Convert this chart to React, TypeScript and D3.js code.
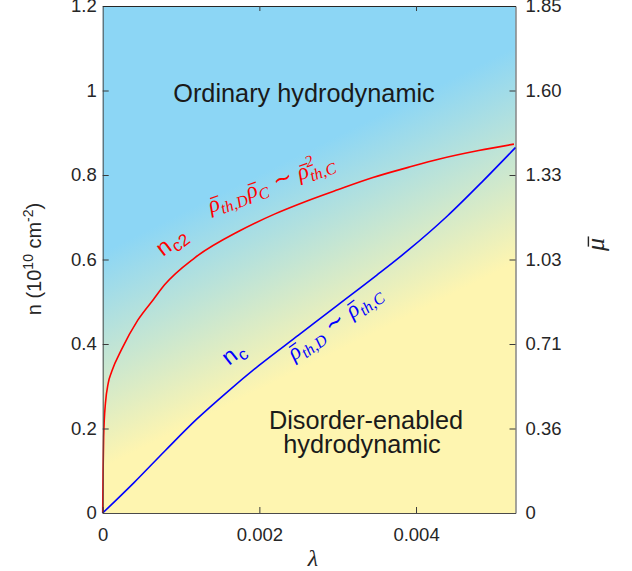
import React, { useEffect, useRef } from "react";
import * as d3 from "d3";

// ---------- data ----------
const LAMBDA_MAX = 0.00527;
const N_MAX = 1.2;

const leftTicks = [0, 0.2, 0.4, 0.6, 0.8, 1, 1.2];
const rightTickLabels = ["0", "0.36", "0.71", "1.03", "1.33", "1.60", "1.85"];
const bottomTicks = [0, 0.002, 0.004];

// n_c2 curve (red)
const nc2Lambda = [0, 0.000005, 0.000012, 0.00002, 0.000035, 0.00007, 0.000115, 0.000238, 0.00045, 0.00065, 0.00079, 0.001175, 0.00175, 0.0022, 0.0026, 0.003, 0.00345, 0.0039, 0.0043, 0.0048, 0.00525];
const nc2Values = [0, 0.1, 0.18, 0.22, 0.26, 0.307, 0.335, 0.386, 0.457, 0.506, 0.54, 0.604, 0.668, 0.708, 0.738, 0.765, 0.794, 0.818, 0.838, 0.858, 0.873];

// n_c curve (blue)
const ncLambda = [0, 0.0004, 0.0008, 0.0012, 0.0016, 0.002, 0.0025, 0.003, 0.0035, 0.0039, 0.0044, 0.00485, 0.00527];
const ncValues = [0, 0.072, 0.148, 0.222, 0.288, 0.35, 0.421, 0.492, 0.563, 0.622, 0.703, 0.785, 0.865];

// ---------- layout ----------
const W = 632;
const H = 571;
const X0 = 102.7;
const X1 = 515.5;
const Y0 = 513;
const Y1 = 6;

const SANS = "'Liberation Sans', Arial, Helvetica, sans-serif";
const SERIF = "'Liberation Serif', 'Times New Roman', serif";
const TXT = "#262626";

export default function App() {
  const axRef = useRef<SVGGElement>(null);
  const rootRef = useRef<SVGSVGElement>(null);

  const x = d3.scaleLinear().domain([0, LAMBDA_MAX]).range([X0, X1]);
  const y = d3.scaleLinear().domain([0, N_MAX]).range([Y0, Y1]);

  const line = d3
    .line<[number, number]>()
    .x((d) => x(d[0]))
    .y((d) => y(d[1]))
    .curve(d3.curveMonotoneX);

  const redPath = line(nc2Lambda.map((l, i) => [l, nc2Values[i]] as [number, number])) || "";
  const bluePath = line(ncLambda.map((l, i) => [l, ncValues[i]] as [number, number])) || "";

  useEffect(() => {
    const g = d3.select(axRef.current);
    g.selectAll("*").remove();

    const left = g
      .append("g")
      .attr("transform", `translate(${X0},0)`)
      .call(
        d3.axisLeft(y).tickValues(leftTicks).tickSize(-6).tickSizeOuter(0).tickPadding(6)
          .tickFormat((d) => String(d))
      );
    const right = g
      .append("g")
      .attr("transform", `translate(${X1},0)`)
      .call(
        d3.axisRight(y).tickValues(leftTicks).tickSize(-6).tickSizeOuter(0).tickPadding(10)
          .tickFormat((_d, i) => rightTickLabels[i])
      );
    const bottom = g
      .append("g")
      .attr("transform", `translate(0,${Y0})`)
      .call(
        d3.axisBottom(x).tickValues(bottomTicks).tickSize(-6).tickSizeOuter(0).tickPadding(15)
          .tickFormat((d) => (d === 0 ? "0" : d3.format(".3f")(d as number)))
      );
    const top = g
      .append("g")
      .attr("transform", `translate(0,${Y1})`)
      .call(d3.axisTop(x).tickValues(bottomTicks.slice(1)).tickSize(-5).tickSizeOuter(0).tickFormat(() => ""));

    [left, right, bottom, top].forEach((a) => {
      a.select(".domain").attr("stroke", "#4a4a4a").attr("stroke-width", 1);
      a.selectAll(".tick line").attr("stroke", "#3a3a3a").attr("stroke-width", 1);
      a.selectAll(".tick text")
        .attr("fill", TXT)
        .style("font-family", SANS)
        .style("font-size", "18.5px");
    });
    top.select(".domain").attr("stroke", "#262626");

    // bars over rho / mu (measured from the rendered glyphs)
    const svg = d3.select(rootRef.current);
    svg.selectAll("line.bar").remove();
    svg.selectAll<SVGTextElement, unknown>("text.math").each(function () {
      const t = this as SVGTextElement;
      const s = t.textContent || "";
      const fs = parseFloat(t.getAttribute("font-size") || "20");
      const parent = d3.select(t.parentNode as SVGGElement);
      const col = t.getAttribute("fill") || "#000";
      const n = Math.min(s.length, t.getNumberOfChars());
      for (let i = 0; i < n; i++) {
        if (s[i] === "ρ" || s[i] === "μ") {
          const e = t.getExtentOfChar(i);
          const by = -0.6 * fs;
          parent
            .append("line")
            .attr("class", "bar")
            .attr("x1", e.x + 0.22 * e.width + 1.5)
            .attr("x2", e.x + e.width + 1.5)
            .attr("y1", by)
            .attr("y2", by)
            .attr("stroke", col)
            .attr("stroke-width", fs * 0.055);
        }
      }
    });
  }, []);

  // gradient geometry (perpendicular to iso-colour lines)
  const g1 = { x: 266, y: 171 };
  const g2 = { x: 352, y: 344 };

  const regionFs = 25.3;

  return (
    <svg
      ref={rootRef}
      width={W}
      height={H}
      style={{ position: "fixed", left: 0, top: 0, background: "#fff" }}
      xmlns="http://www.w3.org/2000/svg"
    >
      <defs>
        <linearGradient id="bg" gradientUnits="userSpaceOnUse" x1={g1.x} y1={g1.y} x2={g2.x} y2={g2.y}>
          <stop offset="0" stopColor="#8cd6f5" />
          <stop offset="1" stopColor="#fef5b0" />
        </linearGradient>
      </defs>
      <rect x={X0} y={Y1} width={X1 - X0} height={Y0 - Y1} fill="url(#bg)" />

      <path d={redPath} fill="none" stroke="#ff0000" strokeWidth={1.6} />
      <path d={bluePath} fill="none" stroke="#0000ff" strokeWidth={1.6} />

      {/* region labels */}
      <text x={304} y={102} textAnchor="middle" fontFamily={SANS} fontSize={regionFs} fill="#1a1a1a">
        Ordinary hydrodynamic
      </text>
      <text x={366} y={429} textAnchor="middle" fontFamily={SANS} fontSize={regionFs} fill="#1a1a1a">
        Disorder-enabled
      </text>
      <text x={362} y={453} textAnchor="middle" fontFamily={SANS} fontSize={regionFs} fill="#1a1a1a">
        hydrodynamic
      </text>

      {/* curve labels */}
      <text transform="translate(163,257) rotate(-37)" fontFamily={SANS} fontSize={23} fill="#ff0000">
        <tspan>n</tspan>
        <tspan dx={1} dy={5} fontSize={17}>c2</tspan>
      </text>
      <text transform="translate(229,366) rotate(-38)" fontFamily={SANS} fontSize={23} fill="#0000ff">
        <tspan>n</tspan>
        <tspan dx={1} dy={5} fontSize={17}>c</tspan>
      </text>

      <g transform="translate(211,213) rotate(-20)">
        <text className="math" x={0} y={0} fontFamily={SERIF} fontStyle="italic" fontSize={23} fill="#ff0000">
          <tspan>ρ</tspan>
          <tspan dy={5} fontSize={16}>th,D</tspan>
          <tspan dy={-5} dx={1}>ρ</tspan>
          <tspan dy={5} fontSize={16}>C</tspan>
          <tspan dy={-5} dx={7} fontStyle="normal">∼</tspan>
          <tspan dx={7}>ρ</tspan>
          <tspan dy={-10} fontSize={16}>2</tspan>
          <tspan dx={-8} dy={15} fontSize={16}>th,C</tspan>
        </text>
      </g>
      <g transform="translate(294,361) rotate(-36)">
        <text className="math" x={0} y={0} fontFamily={SERIF} fontStyle="italic" fontSize={23} fill="#0000ff">
          <tspan>ρ</tspan>
          <tspan dy={5} fontSize={16}>th,D</tspan>
          <tspan dy={-5} dx={7} fontStyle="normal">∼</tspan>
          <tspan dx={7}>ρ</tspan>
          <tspan dy={5} fontSize={16}>th,C</tspan>
        </text>
      </g>

      <g ref={axRef} />

      {/* axis titles */}
      <text transform="translate(41,259) rotate(-90)" textAnchor="middle" fontFamily={SANS} fontSize={20} fill={TXT}>
        <tspan>n (10</tspan>
        <tspan dy={-8} fontSize={14}>10</tspan>
        <tspan dy={8}> cm</tspan>
        <tspan dy={-8} fontSize={14}>-2</tspan>
        <tspan dy={8}>)</tspan>
      </text>
      <text x={313} y={566} textAnchor="middle" fontFamily={SERIF} fontStyle="italic" fontSize={24} fill={TXT}>
        λ
      </text>
      <g transform="translate(604,251) rotate(-90)">
        <text className="math" x={0} y={0} fontFamily={SERIF} fontStyle="italic" fontSize={26} fill={TXT}>
          μ
        </text>
      </g>
    </svg>
  );
}
